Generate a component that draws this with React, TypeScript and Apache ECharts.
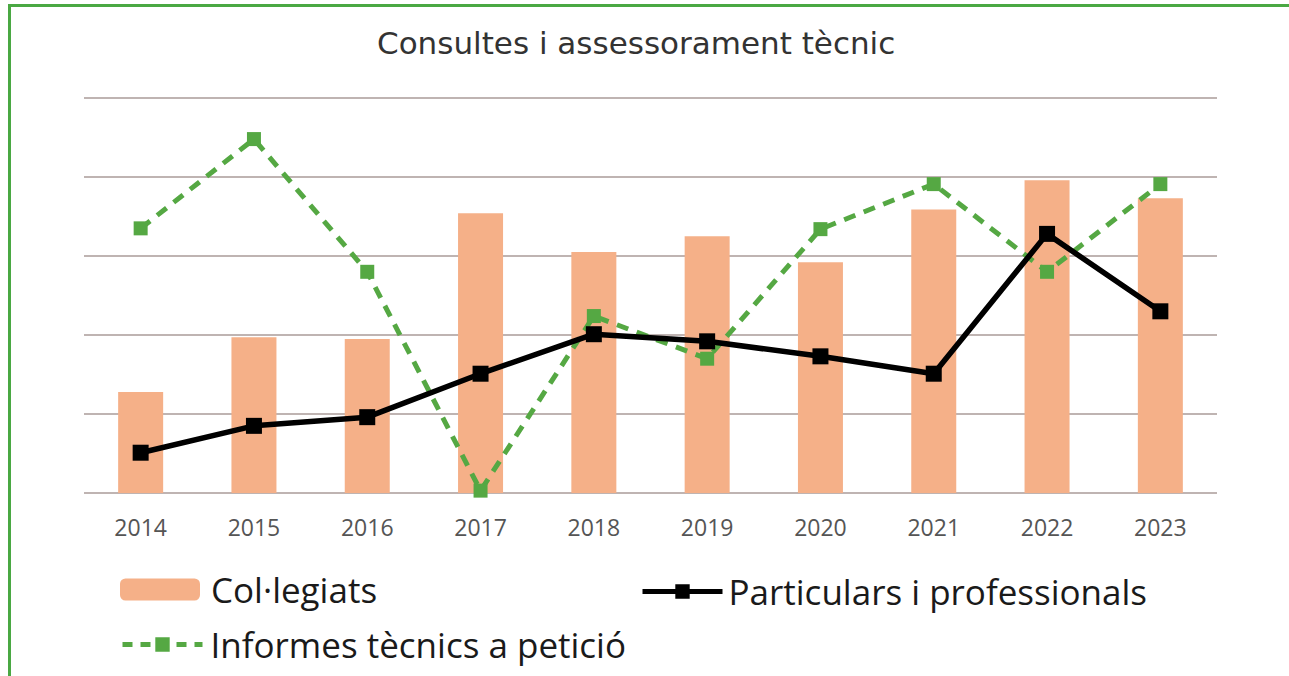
import React, { useEffect, useRef } from "react";
import * as echarts from "echarts";

const years = ["2014", "2015", "2016", "2017", "2018", "2019", "2020", "2021", "2022", "2023"];
const collegiats = [12.8, 19.7, 19.5, 35.4, 30.5, 32.5, 29.2, 35.9, 39.6, 37.3];
const particulars = [5.1, 8.5, 9.6, 15.1, 20.1, 19.2, 17.3, 15.1, 32.8, 23.0];
const informes = [33.5, 44.8, 28.0, 0.3, 22.4, 17.0, 33.4, 39.1, 28.0, 39.1];

const NAME_BAR = "Col·legiats";
const NAME_BLACK = "Particulars i professionals";
const NAME_GREEN = "Informes tècnics a petició";

const FONT = "'Open Sans', 'Noto Sans', sans-serif";

export default function App() {
  const ref = useRef<HTMLDivElement>(null);
  useEffect(() => {
    if (!ref.current) return;
    const chart = echarts.init(ref.current, undefined, { renderer: "svg" });
    const legendText = { fontSize: 35, color: "#1a1a1a", fontFamily: FONT };
    chart.setOption({
      animation: false,
      backgroundColor: "#ffffff",
      title: {
        text: "Consultes i assessorament tècnic",
        left: 372,
        top: 22,
        textStyle: { fontSize: 31, fontWeight: "normal", color: "#333333", fontFamily: "'DejaVu Sans', sans-serif" },
      },
      graphic: [
        {
          type: "rect",
          shape: { x: 9.5, y: 5.5, width: 1300, height: 700 },
          style: { fill: "none", stroke: "#4aa843", lineWidth: 3 },
          silent: true,
        },
      ],
      legend: [
        {
          data: [NAME_BAR],
          left: 115,
          top: 567,
          itemWidth: 80,
          itemHeight: 22,
          itemGap: 0,
          textStyle: { ...legendText, padding: [0, 0, 0, 6] },
        },
        {
          data: [NAME_BLACK],
          left: 635,
          top: 569,
          itemWidth: 80,
          itemHeight: 18,
          lineStyle: { width: 5 },
          textStyle: { ...legendText, padding: [0, 0, 0, 1] },
        },
        {
          data: [NAME_GREEN],
          left: 115,
          top: 622,
          itemWidth: 80,
          itemHeight: 18,
          lineStyle: { width: 5, type: [10, 8] },
          textStyle: { ...legendText, padding: [0, 0, 0, 3] },
        },
      ],
      grid: { left: 84, right: 72, top: 98, bottom: 183, containLabel: false },
      xAxis: {
        type: "category",
        data: years,
        axisLine: { show: false },
        axisTick: { show: false },
        axisLabel: { color: "#555555", fontSize: 23, fontFamily: FONT, margin: 22 },
      },
      yAxis: {
        type: "value",
        min: 0,
        max: 50,
        interval: 10,
        axisLabel: { show: false },
        axisLine: { show: false },
        axisTick: { show: false },
        splitLine: { lineStyle: { color: "#bfb4b2", width: 2 } },
      },
      series: [
        {
          name: NAME_BAR,
          type: "bar",
          data: collegiats,
          barWidth: 45,
          itemStyle: { color: "#f5b088" },
          z: 1,
        },
        {
          name: NAME_GREEN,
          type: "line",
          data: informes,
          symbol: "rect",
          symbolSize: 14,
          lineStyle: { color: "#55a843", width: 5, type: [12, 9] },
          itemStyle: { color: "#55a843" },
          z: 2,
        },
        {
          name: NAME_BLACK,
          type: "line",
          data: particulars,
          symbol: "rect",
          symbolSize: 16,
          lineStyle: { color: "#000000", width: 5.5 },
          itemStyle: { color: "#000000" },
          z: 3,
        },
      ],
    });
    return () => chart.dispose();
  }, []);
  return <div ref={ref} style={{ position: "absolute", left: 0, top: 0, width: 1289, height: 676 }} />;
}
